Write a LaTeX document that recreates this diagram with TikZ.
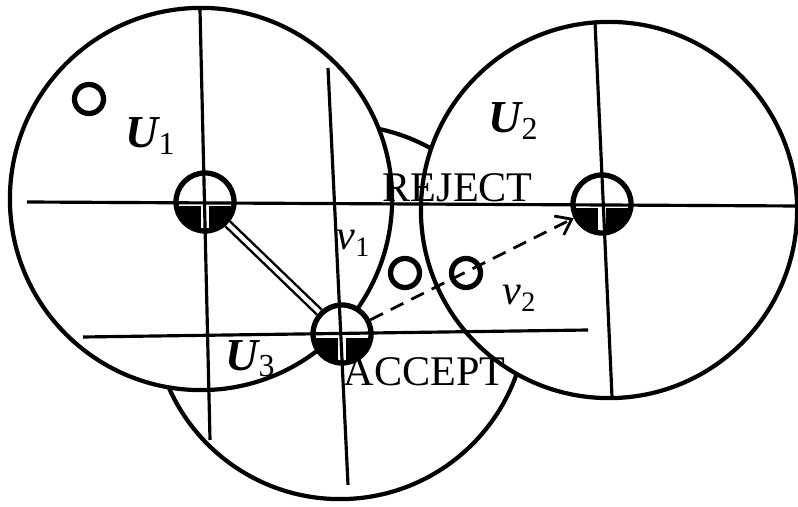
\documentclass[tikz,border=0pt]{standalone}
\usepackage{fontspec}
\setmainfont{Liberation Serif}
\usetikzlibrary{arrows.meta}

\begin{document}
\begin{tikzpicture}[x=0.01cm, y=-0.01cm,
    zone/.style={draw, circle, fill=white, line width=1.2pt, inner sep=0pt},
    site/.style={draw, circle, fill=white, line width=1.5pt, inner sep=0pt, minimum size=0.58cm,
        path picture={
            \fill[black] (path picture bounding box.west) rectangle (path picture bounding box.south east);
            \draw[white, line width=2.4pt] (path picture bounding box.west) -- (path picture bounding box.east)
                (path picture bounding box.north) -- (path picture bounding box.south);
        }},
    obs/.style={draw, circle, line width=1.5pt, inner sep=0pt, minimum size=0.29cm},
    axis/.style={draw, line width=0.9pt},
    link/.style={draw, line width=0.7pt, double, double distance=1.2pt},
    msg/.style={draw, line width=0.8pt, dash pattern=on 4pt off 2.5pt, -{Straight Barb[length=4pt, width=6pt]}},
    zlab/.style={anchor=base west, inner sep=0pt, font=\fontsize{13}{13}\selectfont},
    vlab/.style={anchor=base west, inner sep=0pt, font=\fontsize{12}{12}\selectfont},
    word/.style={anchor=base west, inner sep=0pt, font=\fontsize{12}{12}\selectfont}
]
\useasboundingbox (0,0) rectangle (798,507);

% regions
\node[zone, minimum size=3.74cm] (zone3) at (340,312) {};
\node[zone, minimum size=3.82cm] (zone1) at (201,199) {};
\node[zone, minimum size=3.76cm] (zone2) at (609,210) {};

% observers
\node[obs] (o1) at (89,99) {};
\node[obs] (o2) at (405,273) {};
\node[obs] (o3) at (466,273) {};

% sites
\node[site] (n1) at (205,202) {};
\node[site] (n2) at (602,204) {};
\node[site] (n3) at (342,334) {};

% axes through the sites
\coordinate (h1w) at (27,202);
\coordinate (h1e) at (798,206);
\coordinate (h3w) at (83,337);
\coordinate (h3e) at (588,330);
\coordinate (v1n) at (200,10);
\coordinate (v1s) at (210,440);
\coordinate (v3n) at (328,68);
\coordinate (v3s) at (348,485);
\coordinate (v2n) at (595,22);
\coordinate (v2s) at (612,397);
\draw[axis] (h1w) -- (h1e);
\draw[axis] (h3w) -- (h3e);
\draw[axis] (v1n) -- (v1s);
\draw[axis] (v3n) -- (v3s);
\draw[axis] (v2n) -- (v2s);

\draw[link] (n1) -- (n3);
\draw[msg] (n3) -- (n2);

% labels
\node[zlab] (lu1) at (125,148) {{\bfseries\itshape U}\textsubscript{1}};
\node[zlab] (lu2) at (488,133) {{\bfseries\itshape U}\textsubscript{2}};
\node[zlab] (lu3) at (225,370) {{\bfseries\itshape U}\textsubscript{3}};
\node[vlab] (lv1) at (336,250) {{\itshape v}\textsubscript{1}};
\node[vlab] (lv2) at (502,305) {{\itshape v}\textsubscript{2}};
\node[word] (reject) at (382,202) {REJECT};
\node[word] (accept) at (343,385) {ACCEPT};

\end{tikzpicture}
\end{document}
